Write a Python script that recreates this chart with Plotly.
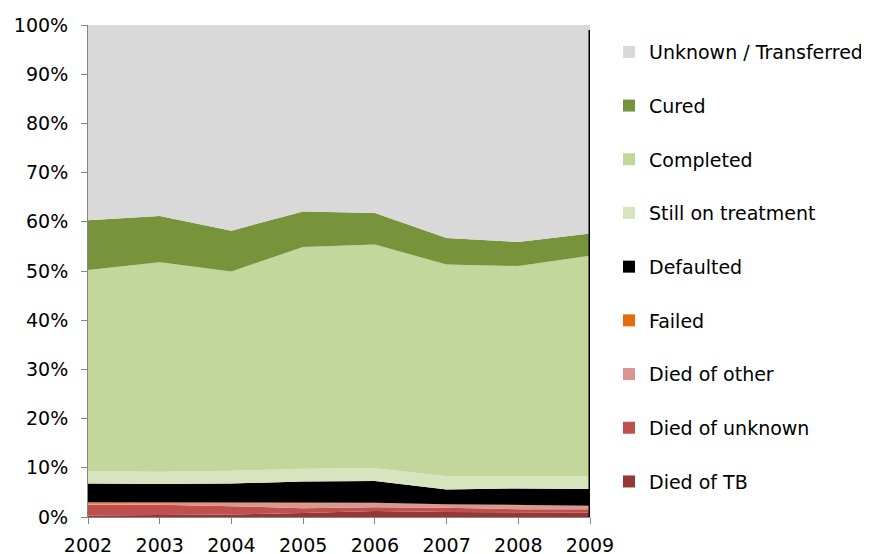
import plotly.graph_objects as go

years = [2002, 2003, 2004, 2005, 2006, 2007, 2008, 2009]

died_tb = [0.3, 0.4, 0.5, 0.8, 1.2, 1.0, 0.9, 0.9]
died_unknown = [2.2, 2.1, 1.7, 1.0, 0.8, 0.9, 0.7, 0.7]
died_other = [0.2, 0.2, 0.5, 1.0, 0.8, 0.6, 0.7, 0.6]
failed = [0.3, 0.3, 0.2, 0.1, 0.1, 0.1, 0.1, 0.1]
defaulted = [3.8, 3.7, 3.9, 4.3, 4.4, 3.0, 3.4, 3.4]
still_on_treatment = [2.5, 2.5, 2.6, 2.6, 2.6, 2.7, 2.5, 2.6]
completed = [40.9, 42.6, 40.5, 45.1, 45.5, 43.0, 42.7, 44.8]
cured = [10.1, 9.4, 8.3, 7.2, 6.4, 5.4, 4.9, 4.5]
unknown_transferred = [39.7, 38.8, 41.8, 37.9, 38.2, 43.3, 44.1, 42.4]

series = [
    ("Died of TB", died_tb, "#953735"),
    ("Died of unknown", died_unknown, "#C0504D"),
    ("Died of other", died_other, "#D99694"),
    ("Failed", failed, "#E46C0A"),
    ("Defaulted", defaulted, "#000000"),
    ("Still on treatment", still_on_treatment, "#D7E4BD"),
    ("Completed", completed, "#C3D69B"),
    ("Cured", cured, "#77933C"),
    ("Unknown / Transferred", unknown_transferred, "#D9D9D9"),
]

y_ticks = [0, 10, 20, 30, 40, 50, 60, 70, 80, 90, 100]
y_tick_labels = [f"{v}%" for v in y_ticks]

FONT = "Tahoma, DejaVu Sans, Verdana, sans-serif"
FS = 19

# the page body adds an 8px offset; size the figure so the visible
# window (869x554) shows it in full
W, H = 861, 546
M_L, M_R, M_T, M_B = 80, 279, 17, 37
PLOT_H = H - M_T - M_B

fig = go.Figure()
for name, vals, color in series:
    fig.add_trace(go.Scatter(
        x=years, y=vals, name=name, mode="lines",
        stackgroup="one", line=dict(width=0, color=color),
        fillcolor=color, showlegend=False,
    ))

# legend entries with square swatches, top of stack first
for name, vals, color in reversed(series):
    fig.add_trace(go.Scatter(
        x=[None], y=[None], name=name, mode="markers",
        marker=dict(symbol="square", size=12, color=color),
        legendgroup=name, showlegend=True,
    ))

# dark edge at the right end of the plotted area
fig.add_shape(type="line", x0=years[-1], x1=years[-1], y0=0, y1=99,
              xref="x", yref="y", line=dict(color="#000000", width=3))

fig.update_layout(
    width=W, height=H,
    margin=dict(l=M_L, r=M_R, t=M_T, b=M_B, autoexpand=False),
    paper_bgcolor="white", plot_bgcolor="white",
    font=dict(family=FONT, size=FS, color="#000000"),
    showlegend=True,
    legend=dict(
        traceorder="grouped",
        tracegroupgap=26,
        x=601 / W, xref="container", xanchor="left",
        y=1 - (25 - M_T) / PLOT_H, yref="paper", yanchor="top",
        font=dict(family=FONT, size=FS),
        itemwidth=30,
        bgcolor="rgba(0,0,0,0)",
    ),
    xaxis=dict(
        range=[years[0], years[-1]], tickmode="array", tickvals=years,
        ticktext=[str(y) for y in years],
        showgrid=False, zeroline=False, showline=True,
        linecolor="#868686", linewidth=1, automargin=False,
        ticks="outside", ticklen=6, tickcolor="#868686",
        ticklabelstandoff=5,
        tickfont=dict(family=FONT, size=FS),
    ),
    yaxis=dict(
        range=[0, 100], tickmode="array", tickvals=y_ticks,
        ticktext=y_tick_labels,
        showgrid=False, zeroline=False, showline=True,
        linecolor="#868686", linewidth=1, automargin=False,
        ticks="outside", ticklen=6, tickcolor="#868686",
        ticklabelstandoff=9,
        tickfont=dict(family=FONT, size=FS),
    ),
)

fig.write_html("out.html")
